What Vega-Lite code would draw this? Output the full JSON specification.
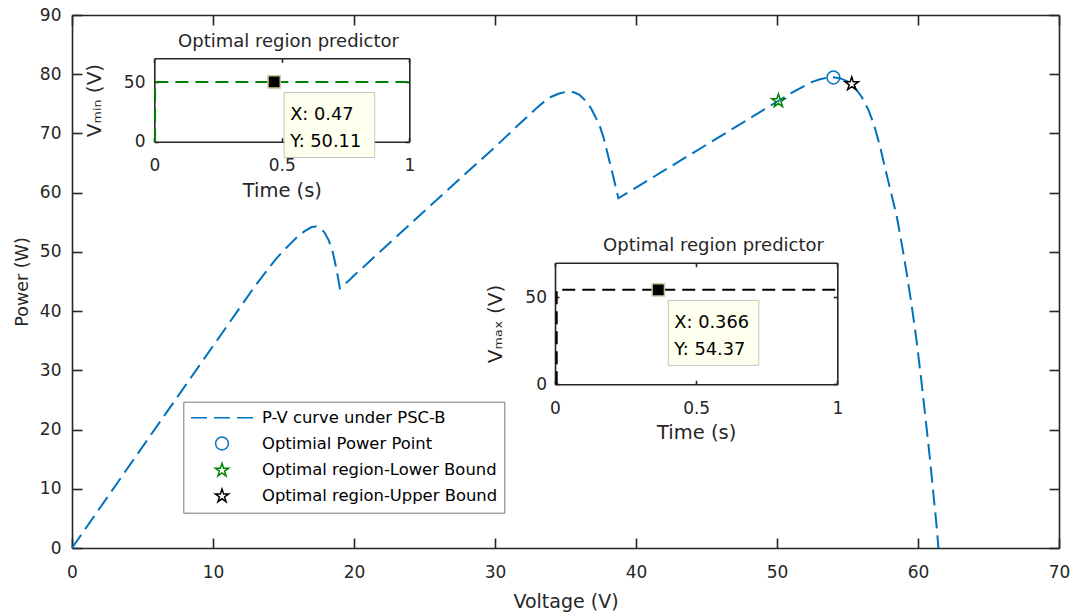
{
  "$schema": "https://vega.github.io/schema/vega-lite/v6.json",
  "width": 987,
  "height": 533,
  "autosize": {"type": "none"},
  "padding": {"left": 72, "top": 15, "right": 17, "bottom": 65},
  "background": "#ffffff",
  "config": {
    "font": "DejaVu Sans",
    "view": {"stroke": null},
    "axis": {
      "grid": false,
      "domainColor": "#262626",
      "domainWidth": 1.6,
      "tickColor": "#262626",
      "tickWidth": 1.6,
      "labelColor": "#262626",
      "titleColor": "#262626",
      "labelFont": "DejaVu Sans",
      "titleFont": "DejaVu Sans",
      "labelFontSize": 17,
      "titleFontSize": 19,
      "titleFontWeight": "normal",
      "labelFlush": false,
      "labelOverlap": false
    }
  },
  "datasets": {
    "pv": [
      {"V": 0, "P": 0}, {"V": 2, "P": 6.83}, {"V": 5, "P": 17.08}, {"V": 8, "P": 27.3}, {"V": 10, "P": 34.1},
      {"V": 12, "P": 40.9}, {"V": 13, "P": 44.3}, {"V": 14, "P": 47.4}, {"V": 14.5, "P": 48.9}, {"V": 15, "P": 50.2},
      {"V": 15.5, "P": 51.4}, {"V": 16, "P": 52.6}, {"V": 16.5, "P": 53.5}, {"V": 17, "P": 54.2}, {"V": 17.3, "P": 54.3},
      {"V": 17.6, "P": 54.0}, {"V": 17.9, "P": 53.3}, {"V": 18.2, "P": 52.0}, {"V": 18.5, "P": 49.9}, {"V": 18.75, "P": 47.2},
      {"V": 19.0, "P": 43.85}, {"V": 19.7, "P": 45.3}, {"V": 20, "P": 46.0}, {"V": 22, "P": 50.35}, {"V": 25, "P": 56.9},
      {"V": 28, "P": 63.4}, {"V": 30, "P": 67.7}, {"V": 32, "P": 72.2}, {"V": 32.5, "P": 73.3}, {"V": 33, "P": 74.4},
      {"V": 33.5, "P": 75.4}, {"V": 34, "P": 76.2}, {"V": 34.5, "P": 76.7}, {"V": 35, "P": 77.0}, {"V": 35.3, "P": 77.05},
      {"V": 35.6, "P": 76.95}, {"V": 36, "P": 76.5}, {"V": 36.4, "P": 75.6}, {"V": 36.8, "P": 74.3}, {"V": 37.1, "P": 72.9},
      {"V": 37.45, "P": 71.1}, {"V": 37.7, "P": 69.3}, {"V": 37.92, "P": 67.2}, {"V": 38.15, "P": 65.0}, {"V": 38.39, "P": 62.7},
      {"V": 38.6, "P": 60.6}, {"V": 38.75, "P": 59.05}, {"V": 40, "P": 60.85}, {"V": 42, "P": 63.75}, {"V": 45, "P": 68.1},
      {"V": 48, "P": 72.45}, {"V": 50, "P": 75.35}, {"V": 51, "P": 76.8}, {"V": 52, "P": 78.1}, {"V": 52.5, "P": 78.7},
      {"V": 53, "P": 79.1}, {"V": 53.5, "P": 79.4}, {"V": 54, "P": 79.5}, {"V": 54.5, "P": 79.3}, {"V": 55, "P": 78.8},
      {"V": 55.5, "P": 77.8}, {"V": 56, "P": 76.2}, {"V": 56.5, "P": 73.9}, {"V": 56.9, "P": 71.3}, {"V": 57.3, "P": 67.9},
      {"V": 57.7, "P": 63.8}, {"V": 58.1, "P": 59.9}, {"V": 58.5, "P": 55.9}, {"V": 58.85, "P": 51.3}, {"V": 59.2, "P": 46.4},
      {"V": 59.55, "P": 41.0}, {"V": 59.9, "P": 35.0}, {"V": 60.25, "P": 28.0}, {"V": 60.6, "P": 20.5}, {"V": 60.85, "P": 15.0},
      {"V": 61.09, "P": 9.2}, {"V": 61.3, "P": 4.2}, {"V": 61.45, "P": 0}
    ],
    "marks": [
      {"V": 54.0, "P": 79.45, "series": "Optimial Power Point"},
      {"V": 50.1, "P": 75.5, "series": "Optimal region-Lower Bound"},
      {"V": 55.3, "P": 78.35, "series": "Optimal region-Upper Bound"}
    ],
    "ins1": [{"k": 0, "t": 0.003, "v": 0}, {"k": 1, "t": 0.003, "v": 50.11}, {"k": 2, "t": 1, "v": 50.11}],
    "ins2": [{"k": 0, "t": 0.006, "v": 0}, {"k": 1, "t": 0.006, "v": 54.37}, {"k": 2, "t": 1, "v": 54.37}],
    "tip1": [{"t": 0.47, "v": 50.11, "txt": "X: 0.47\nY: 50.11"}],
    "tip2": [{"t": 0.366, "v": 54.37, "txt": "X: 0.366\nY: 54.37"}]
  },
  "resolve": {"scale": {"x": "independent", "y": "independent"}},
  "layer": [
    {
      "data": {"name": "pv"},
      "mark": {"type": "line", "color": "#0072BD", "strokeWidth": 2, "strokeDash": [16, 7]},
      "encoding": {
        "x": {"field": "V", "type": "quantitative", "scale": {"domain": [0, 70], "nice": false},
          "axis": {"orient": "bottom", "values": [0, 10, 20, 30, 40, 50, 60, 70], "title": "Voltage (V)", "tickSize": -10, "labelPadding": 26, "titleY": 53, "titleBaseline": "middle"}},
        "y": {"field": "P", "type": "quantitative", "scale": {"domain": [0, 90], "nice": false},
          "axis": {"orient": "left", "values": [0, 10, 20, 30, 40, 50, 60, 70, 80, 90], "title": "Power (W)", "tickSize": -10, "labelPadding": 21, "titleX": -50, "titleBaseline": "middle", "titleFontSize": 17.5}}
      }
    },
    {
      "data": {"name": "marks"},
      "mark": {"type": "point", "filled": false, "size": 256, "strokeWidth": 1.5, "opacity": 1},
      "encoding": {
        "x": {"field": "V", "type": "quantitative", "scale": {"domain": [0, 70], "nice": false},
          "axis": {"orient": "top", "values": [0, 10, 20, 30, 40, 50, 60, 70], "labels": false, "title": null, "tickSize": -10}},
        "y": {"field": "P", "type": "quantitative", "scale": {"domain": [0, 90], "nice": false},
          "axis": {"orient": "right", "values": [0, 10, 20, 30, 40, 50, 60, 70, 80, 90], "labels": false, "title": null, "tickSize": -10}},
        "color": {"field": "series", "type": "nominal",
          "scale": {"domain": ["P-V curve under PSC-B", "Optimial Power Point", "Optimal region-Lower Bound", "Optimal region-Upper Bound"],
                    "range": ["#0072BD", "#0072BD", "#008000", "#000000"]},
          "legend": {"title": null, "orient": "none", "legendX": 111.3, "legendY": 386.7, "padding": 7, "symbolOffset": 22.7, "labelOffset": 31, "rowPadding": 6.8, "symbolSize": 256, "symbolStrokeWidth": 1.5, "labelFontSize": 16.4, "labelFont": "DejaVu Sans", "labelColor": "#000000", "strokeColor": "#777777", "fillColor": "#ffffff", "labelLimit": 400}},
        "shape": {"field": "series", "type": "nominal",
          "scale": {"domain": ["P-V curve under PSC-B", "Optimial Power Point", "Optimal region-Lower Bound", "Optimal region-Upper Bound"],
                    "range": ["M-3.875,0H-1.875M-1,0H1M1.875,0H3.875",
                              "M0.8,0A0.8,0.8,0,1,1,-0.8,0A0.8,0.8,0,1,1,0.8,0Z",
                              "M0,-0.875L0.197,-0.27L0.832,-0.27L0.318,0.103L0.515,0.708L0,0.334L-0.515,0.708L-0.318,0.103L-0.832,-0.27L-0.197,-0.27Z",
                              "M0,-0.875L0.197,-0.27L0.832,-0.27L0.318,0.103L0.515,0.708L0,0.334L-0.515,0.708L-0.318,0.103L-0.832,-0.27L-0.197,-0.27Z"]},
          "legend": {"title": null, "orient": "none", "legendX": 111.3, "legendY": 386.7, "padding": 7, "symbolOffset": 22.7, "labelOffset": 31, "rowPadding": 6.8, "symbolSize": 256, "symbolStrokeWidth": 1.5, "labelFontSize": 16.4, "labelFont": "DejaVu Sans", "labelColor": "#000000", "strokeColor": "#777777", "fillColor": "#ffffff", "labelLimit": 400}}
      }
    },
    {
      "data": {"name": "ins1"},
      "mark": {"type": "line", "color": "#008000", "strokeWidth": 2, "strokeDash": [13, 7]},
      "encoding": {
        "order": {"field": "k"},
        "x": {"field": "t", "type": "quantitative", "scale": {"domain": [0, 1], "range": [82.3, 337.3], "nice": false},
          "axis": {"orient": "bottom", "offset": -406.3, "values": [0, 0.5, 1], "format": "~g", "title": "Time (s)", "tickSize": -4, "labelPadding": 20, "titleY": 48.5, "titleBaseline": "middle", "titleFontSize": 19.5}},
        "y": {"field": "v", "type": "quantitative", "scale": {"domain": [0, 70], "range": [126.7, 43.3], "nice": false},
          "axis": {"orient": "left", "offset": -82.3, "values": [0, 50], "title": "Vₘᵢₙ (V)", "tickSize": -4, "labelPadding": 13.3, "titleX": -54.3, "titleBaseline": "alphabetic", "titleFontSize": 20}}
      }
    },
    {
      "data": {"name": "tip1"},
      "mark": {"type": "point", "shape": "M10,10.5H100.5V75.5H10Z", "size": 4, "filled": true, "fill": "#FFFFEE", "stroke": "#C4C4C4", "strokeWidth": 1, "opacity": 1},
      "encoding": {
        "x": {"field": "t", "type": "quantitative", "scale": {"domain": [0, 1], "range": [82.3, 337.3], "nice": false}, "axis": null},
        "y": {"field": "v", "type": "quantitative", "scale": {"domain": [0, 70], "range": [126.7, 43.3], "nice": false}, "axis": null}
      }
    },
    {
      "data": {"name": "tip1"},
      "mark": {"type": "point", "shape": "square", "size": 150, "filled": true, "fill": "#000000", "stroke": "#CBC69E", "strokeWidth": 1.5, "opacity": 1},
      "encoding": {
        "x": {"field": "t", "type": "quantitative", "scale": {"domain": [0, 1], "range": [82.3, 337.3], "nice": false},
          "axis": {"orient": "top", "offset": -43.3, "values": [0, 0.5, 1], "labels": false, "tickSize": -4, "title": "Optimal region predictor", "titleX": 216, "titleY": -16.6, "titleBaseline": "middle", "titleFontSize": 18}},
        "y": {"field": "v", "type": "quantitative", "scale": {"domain": [0, 70], "range": [126.7, 43.3], "nice": false},
          "axis": {"orient": "right", "offset": -649.7, "values": [0, 50], "labels": false, "tickSize": -4, "title": null}}
      }
    },
    {
      "data": {"name": "tip1"},
      "mark": {"type": "text", "align": "left", "baseline": "alphabetic", "dx": 16, "dy": 38, "lineBreak": "\n", "lineHeight": 26.7, "fontSize": 17.8, "font": "DejaVu Sans", "color": "#000000"},
      "encoding": {
        "x": {"field": "t", "type": "quantitative", "scale": {"domain": [0, 1], "range": [82.3, 337.3], "nice": false}, "axis": null},
        "y": {"field": "v", "type": "quantitative", "scale": {"domain": [0, 70], "range": [126.7, 43.3], "nice": false}, "axis": null},
        "text": {"field": "txt", "type": "nominal"}
      }
    },
    {
      "data": {"name": "ins2"},
      "mark": {"type": "line", "color": "#000000", "strokeWidth": 2, "strokeDash": [13, 7]},
      "encoding": {
        "order": {"field": "k"},
        "x": {"field": "t", "type": "quantitative", "scale": {"domain": [0, 1], "range": [483, 765.3], "nice": false},
          "axis": {"orient": "bottom", "offset": -163.7, "values": [0, 0.5, 1], "format": "~g", "title": "Time (s)", "tickSize": -4, "labelPadding": 20, "titleY": 48.5, "titleBaseline": "middle", "titleFontSize": 19.5}},
        "y": {"field": "v", "type": "quantitative", "scale": {"domain": [0, 70], "range": [369.3, 247.7], "nice": false},
          "axis": {"orient": "left", "offset": -483, "values": [0, 50], "title": "Vₘₐₓ (V)", "tickSize": -4, "labelPadding": 12.5, "titleX": -53.3, "titleBaseline": "alphabetic", "titleFontSize": 20}}
      }
    },
    {
      "data": {"name": "tip2"},
      "mark": {"type": "point", "shape": "M10,10.5H100.5V75.5H10Z", "size": 4, "filled": true, "fill": "#FFFFEE", "stroke": "#C4C4C4", "strokeWidth": 1, "opacity": 1},
      "encoding": {
        "x": {"field": "t", "type": "quantitative", "scale": {"domain": [0, 1], "range": [483, 765.3], "nice": false}, "axis": null},
        "y": {"field": "v", "type": "quantitative", "scale": {"domain": [0, 70], "range": [369.3, 247.7], "nice": false}, "axis": null}
      }
    },
    {
      "data": {"name": "tip2"},
      "mark": {"type": "point", "shape": "square", "size": 150, "filled": true, "fill": "#000000", "stroke": "#CBC69E", "strokeWidth": 1.5, "opacity": 1},
      "encoding": {
        "x": {"field": "t", "type": "quantitative", "scale": {"domain": [0, 1], "range": [483, 765.3], "nice": false},
          "axis": {"orient": "top", "offset": -247.7, "values": [0, 0.5, 1], "labels": false, "tickSize": -4, "title": "Optimal region predictor", "titleX": 641, "titleY": -17.7, "titleBaseline": "middle", "titleFontSize": 18}},
        "y": {"field": "v", "type": "quantitative", "scale": {"domain": [0, 70], "range": [369.3, 247.7], "nice": false},
          "axis": {"orient": "right", "offset": -221.7, "values": [0, 50], "labels": false, "tickSize": -4, "title": null}}
      }
    },
    {
      "data": {"name": "tip2"},
      "mark": {"type": "text", "align": "left", "baseline": "alphabetic", "dx": 16, "dy": 38, "lineBreak": "\n", "lineHeight": 26.7, "fontSize": 17.8, "font": "DejaVu Sans", "color": "#000000"},
      "encoding": {
        "x": {"field": "t", "type": "quantitative", "scale": {"domain": [0, 1], "range": [483, 765.3], "nice": false}, "axis": null},
        "y": {"field": "v", "type": "quantitative", "scale": {"domain": [0, 70], "range": [369.3, 247.7], "nice": false}, "axis": null},
        "text": {"field": "txt", "type": "nominal"}
      }
    }
  ]
}
